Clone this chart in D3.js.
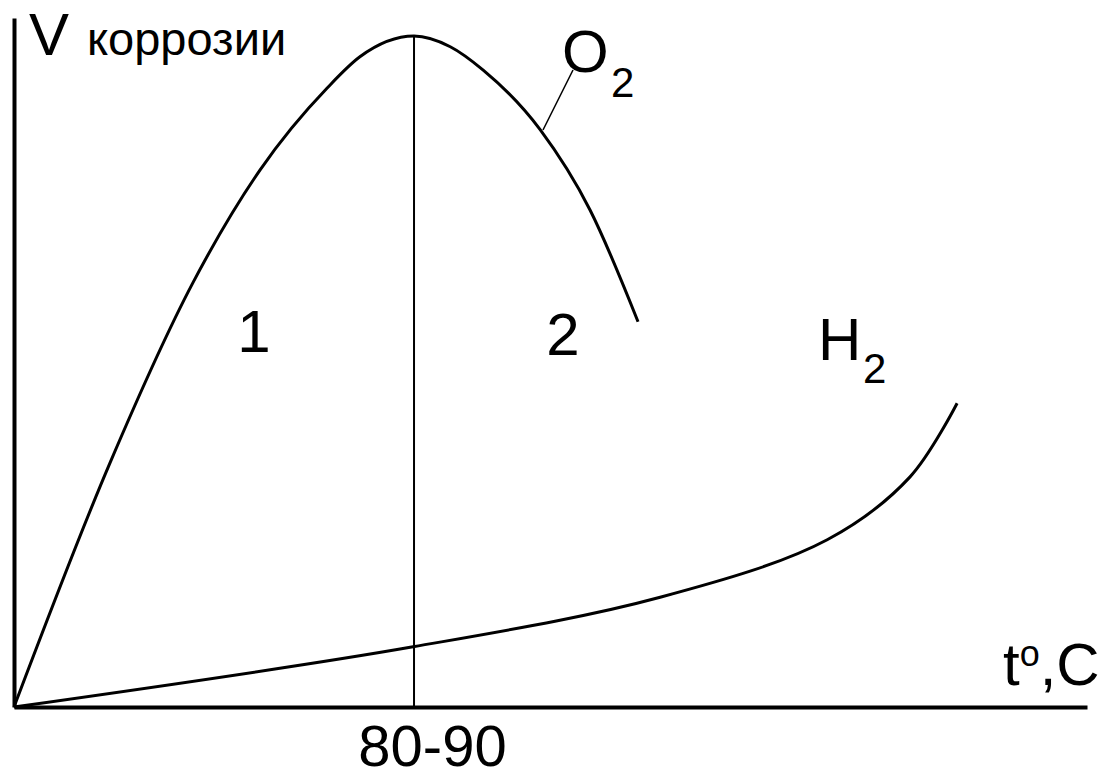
<!DOCTYPE html>
<html>
<head>
<meta charset="utf-8">
<script src="https://cdn.jsdelivr.net/npm/d3@7"></script>
<style>
  body { margin: 0; background: #fff; }
  svg { display: block; }
  text { font-family: "Liberation Sans", Arial, sans-serif; fill: #000; }
</style>
</head>
<body>
<script type="text/javascript">

var w = 1113,
	h = 779;

// O2 curve (temperature, corrosion rate)
var o2T = [0, 20.4, 38, 52.3, 66.5, 73.5, 85, 92.7, 99.7, 111.8, 122.4, 132.6];
var o2V = [0, 36.5, 63.4, 80.3, 92.5, 97.2, 100.3, 98.7, 95.2, 86.3, 74.3, 57.6];

// H2 curve
var h2T = [0, 84.8, 137.3, 172.8, 190.4, 200.4];
var h2V = [0, 9, 16.4, 25, 34.4, 45.4];

var peakT = 85,          // the 80-90 line
	peakV = 100.3,
	peakLabel = "80-90",
	xMax = 228,
	yMax = 103;

var x = d3.scaleLinear()
	.domain([0, xMax])
	.range([14, 1087]);

var y = d3.scaleLinear()
	.domain([0, yMax])
	.range([707, 18]);

var svg = d3.select("body")
  .append("svg")
	.attr("width", w)
	.attr("height", h);

var lineO2 = d3.line()
	.x(function(d) { return x(d[0]); })
	.y(function(d) { return y(d[1]); })
	.curve(d3.curveMonotoneX);

var lineH2 = d3.line()
	.x(function(d) { return x(d[0]); })
	.y(function(d) { return y(d[1]); })
	.curve(d3.curveCatmullRom.alpha(0.5));

var o2 = o2T.map(function(t, i) { return [t, o2V[i]]; });
var h2 = h2T.map(function(t, i) { return [t, h2V[i]]; });

// vertical line at the maximum
svg.append("line")
	.attr("x1", x(peakT))
	.attr("x2", x(peakT))
	.attr("y1", y(peakV))
	.attr("y2", y(0))
	.attr("stroke", "#000")
	.attr("stroke-width", 2);

svg.append("path")
	.datum(o2)
	.attr("d", lineO2)
	.attr("fill", "none")
	.attr("stroke", "#000")
	.attr("stroke-width", 3);

svg.append("path")
	.datum(h2)
	.attr("d", lineH2)
	.attr("fill", "none")
	.attr("stroke", "#000")
	.attr("stroke-width", 3);

// axes
var xAxis = d3.axisBottom(x)
	.tickValues([peakT])
	.tickFormat(function() { return peakLabel; })
	.tickSize(0)
	.tickSizeOuter(0);

var gx = svg.append("g")
	.attr("transform", "translate(0," + y(0) + ")")
	.call(xAxis);
gx.select(".domain").attr("stroke-width", 4);
gx.selectAll(".tick text")
	.attr("font-family", "Liberation Sans, Arial, sans-serif")
	.attr("font-size", 58)
	.attr("dx", 18)
	.attr("y", 59)
	.attr("dy", 0)
	.attr("fill", "#000");

var yAxis = d3.axisLeft(y)
	.tickValues([])
	.tickSizeOuter(0);

var gy = svg.append("g")
	.attr("transform", "translate(" + x(0) + ",0)")
	.call(yAxis);
gy.select(".domain").attr("stroke-width", 4);

// O2 leader line
svg.append("line")
	.attr("x1", 573).attr("y1", 70)
	.attr("x2", 543).attr("y2", 130)
	.attr("stroke", "#000")
	.attr("stroke-width", 1.5);

// labels
var vLab = svg.append("text").attr("x", 29).attr("y", 55);
vLab.append("tspan").attr("font-size", 60).text("V");
vLab.append("tspan").attr("x", 87).attr("font-size", 47).text("коррозии");

var o2Lab = svg.append("text").attr("x", 562).attr("y", 72).attr("font-size", 60);
o2Lab.append("tspan").text("O");
o2Lab.append("tspan").attr("x", 611).attr("y", 97).attr("font-size", 42).text("2");

var h2Lab = svg.append("text").attr("x", 818).attr("y", 360).attr("font-size", 60);
h2Lab.append("tspan").text("H");
h2Lab.append("tspan").attr("x", 863).attr("y", 383).attr("font-size", 42).text("2");

svg.append("text")
	.attr("x", 254).attr("y", 352)
	.attr("text-anchor", "middle")
	.attr("font-size", 60)
	.text("1");

svg.append("text")
	.attr("x", 563).attr("y", 355)
	.attr("text-anchor", "middle")
	.attr("font-size", 60)
	.text("2");

var tLab = svg.append("text").attr("x", 1003).attr("y", 685).attr("font-size", 60);
tLab.append("tspan").text("t");
tLab.append("tspan").attr("y", 666).attr("font-size", 36).text("o");
tLab.append("tspan").attr("y", 685).text(",C");

</script>
</body>
</html>
